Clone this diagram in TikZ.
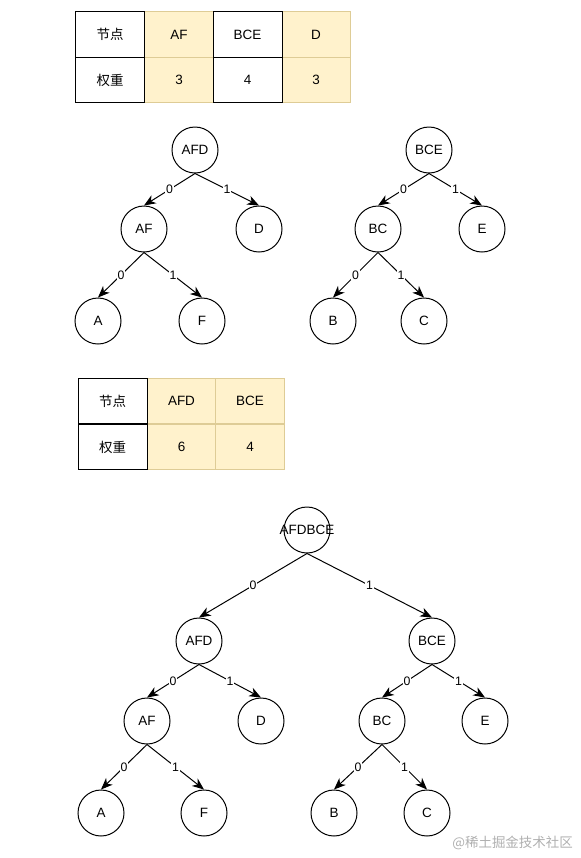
\documentclass[tikz,border=0pt]{standalone}
\usepackage{fontspec}
\setmainfont{Liberation Sans}
\newfontfamily\cjk{Noto Sans CJK SC}
\usetikzlibrary{arrows.meta}
\definecolor{hfyellow}{RGB}{255,242,204}
\definecolor{hftan}{RGB}{222,204,150}
\definecolor{hfgray}{RGB}{175,175,175}
\tikzset{
  hnode/.style={draw, circle, line width=0.85pt, minimum size=1.38cm, inner sep=0pt,
                font=\fontsize{11.5}{13}\selectfont},
  hedge/.style={line width=0.85pt, -{Stealth[length=10pt, width=8pt, inset=3pt]}},
  hbit/.style={fill=white, inner sep=0.6pt, font=\fontsize{10.5}{12}\selectfont},
  wcell/.style={draw=black, line width=0.85pt, fill=white, minimum width=2.07cm,
                minimum height=1.37cm, inner sep=0pt, font=\fontsize{11.5}{13}\selectfont},
  ycell/.style={draw=hftan, line width=0.85pt, fill=hfyellow, minimum width=2.07cm,
                minimum height=1.37cm, inner sep=0pt, font=\fontsize{11.5}{13}\selectfont},
}

\begin{document}
\begin{tikzpicture}[x=0.03cm, y=-0.03cm]
\useasboundingbox (0,0) rectangle (580,858);

% --- Table 1: first weights ---
\node[ycell] (w1-af) at (179,34.5) {AF};
\node[ycell] (w1-d) at (316,34.5) {D};
\node[ycell] (v1-af) at (179,80) {3};
\node[ycell] (v1-d) at (316,80) {3};
\node[wcell] (w1-key) at (110,34.5) {\cjk 节点};
\node[wcell] (v1-key) at (110,80) {\cjk 权重};
\node[wcell] (w1-bce) at (247.5,34.5) {BCE};
\node[wcell] (v1-bce) at (247.5,80) {4};

% --- Tree AFD ---
\node[hnode] (t1-afd) at (195,150) {AFD};
\node[hnode] (t1-af) at (144,229) {AF};
\node[hnode] (t1-d) at (259,229) {D};
\node[hnode] (t1-a) at (98,321) {A};
\node[hnode] (t1-f) at (202,321) {F};
\draw[hedge] (t1-afd.south) -- node[hbit] {0} (t1-af.north);
\draw[hedge] (t1-afd.south) -- node[hbit] {1} (t1-d.north);
\draw[hedge] (t1-af.south) -- node[hbit] {0} (t1-a.north);
\draw[hedge] (t1-af.south) -- node[hbit] {1} (t1-f.north);

% --- Tree BCE ---
\node[hnode] (t2-bce) at (429,150) {BCE};
\node[hnode] (t2-bc) at (378,229) {BC};
\node[hnode] (t2-e) at (482,229) {E};
\node[hnode] (t2-b) at (333,321) {B};
\node[hnode] (t2-c) at (424,321) {C};
\draw[hedge] (t2-bce.south) -- node[hbit] {0} (t2-bc.north);
\draw[hedge] (t2-bce.south) -- node[hbit] {1} (t2-e.north);
\draw[hedge] (t2-bc.south) -- node[hbit] {0} (t2-b.north);
\draw[hedge] (t2-bc.south) -- node[hbit] {1} (t2-c.north);

% --- Table 2: merged weights ---
\node[ycell] (w2-afd) at (181.5,401) {AFD};
\node[ycell] (w2-bce) at (250,401) {BCE};
\node[ycell] (v2-afd) at (181.5,447) {6};
\node[ycell] (v2-bce) at (250,447) {4};
\node[wcell] (w2-key) at (112.5,401) {\cjk 节点};
\node[wcell] (v2-key) at (112.5,447) {\cjk 权重};

% --- Final tree ---
\node[hnode] (t3-root) at (307,530) {\makebox[0pt]{AFDBCE}};
\node[hnode] (t3-afd) at (199,641) {AFD};
\node[hnode] (t3-bce) at (432,641) {BCE};
\node[hnode] (t3-af) at (147,721) {AF};
\node[hnode] (t3-d) at (261,721) {D};
\node[hnode] (t3-bc) at (382,721) {BC};
\node[hnode] (t3-e) at (485,721) {E};
\node[hnode] (t3-a) at (101,813) {A};
\node[hnode] (t3-f) at (204,813) {F};
\node[hnode] (t3-b) at (334,813) {B};
\node[hnode] (t3-c) at (427,813) {C};
\draw[hedge] (t3-root.south) -- node[hbit] {0} (t3-afd.north);
\draw[hedge] (t3-root.south) -- node[hbit] {1} (t3-bce.north);
\draw[hedge] (t3-afd.south) -- node[hbit] {0} (t3-af.north);
\draw[hedge] (t3-afd.south) -- node[hbit] {1} (t3-d.north);
\draw[hedge] (t3-af.south) -- node[hbit] {0} (t3-a.north);
\draw[hedge] (t3-af.south) -- node[hbit] {1} (t3-f.north);
\draw[hedge] (t3-bce.south) -- node[hbit] {0} (t3-bc.north);
\draw[hedge] (t3-bce.south) -- node[hbit] {1} (t3-e.north);
\draw[hedge] (t3-bc.south) -- node[hbit] {0} (t3-b.north);
\draw[hedge] (t3-bc.south) -- node[hbit] {1} (t3-c.north);

% watermark
\node[font=\cjk\fontsize{11.5}{13}\selectfont, text=hfgray, anchor=east] (mark) at (577,843) {@稀土掘金技术社区};

\end{tikzpicture}
\end{document}
